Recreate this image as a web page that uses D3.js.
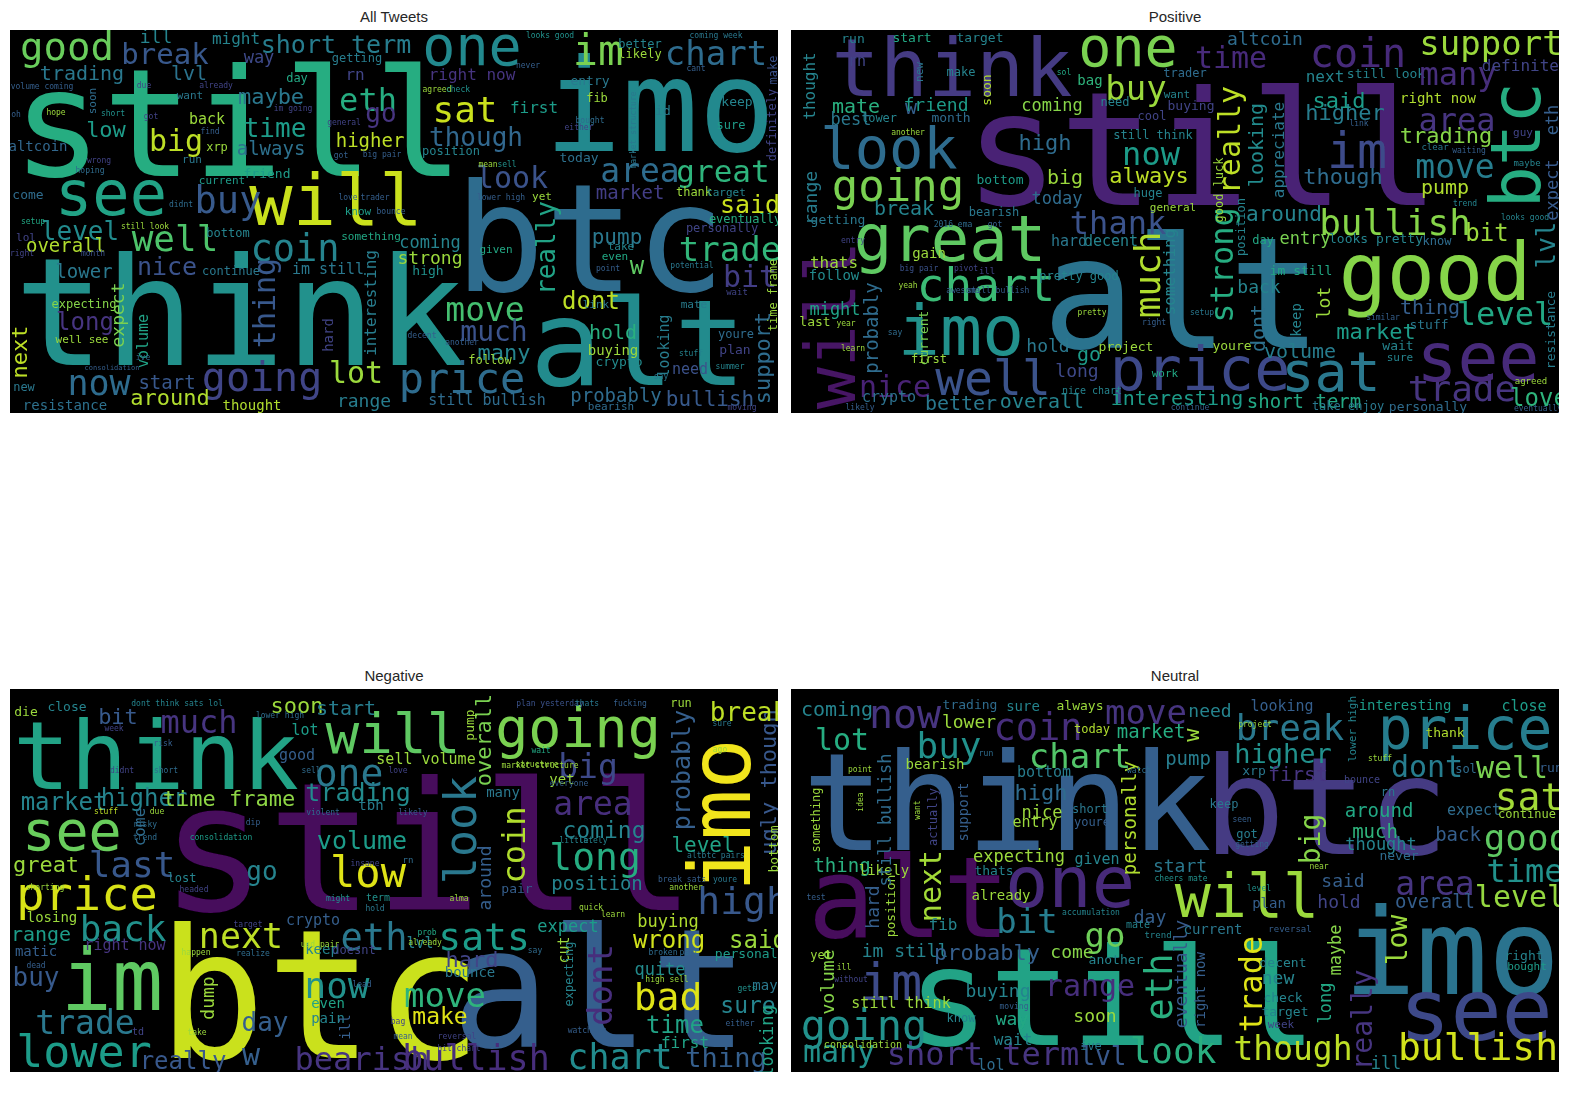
<!DOCTYPE html>
<html>
<head>
<meta charset="utf-8">
<script src="https://cdn.jsdelivr.net/npm/d3@7"></script>
<style>
  body { margin: 0; background: #fff; }
  svg { display: block; }
</style>
</head>
<body>
<svg id="chart" width="1589" height="1098"></svg>
<script>
// word rows: [text, x, y, fontSize, rotated, colour 0..1 (viridis)]
// x,y are in the cloud's own pixel frame (768 x 383). Horizontal words: x = centre, y = baseline.
// Rotated words (read bottom to top): x = baseline, y = centre.
const allWords = [
  ['still',228,146,150,0,0.62],['think',230,335,150,0,0.5],['btc',580,261,150,0,0.35],
  ['alt',628,355,120,0,0.48],['imo',650,121,128,0,0.47],['will',326,195,72,0,0.92],
  ['see',101,185,62,0,0.58],['one',462,35,55,0,0.47],['good',57,30,39,0,0.77],
  ['break',155,34,29,0,0.27],['trading',72,50,20,0,0.4],['lvl',179,50,20,0,0.38],
  ['ill',146,13,18,0,0.45],['might',226,14,16,0,0.45],['short term',326,23,25,0,0.42],
  ['im',588,35,42,0,0.8],['chart',706,35,34,0,0.35],['eth',358,81,32,0,0.62],
  ['sat',455,92,36,0,0.92],['rn',345,50,16,0,0.2],['right now',462,50,16,0,0.15],
  ['maybe',261,74,22,0,0.4],['go',371,92,26,0,0.15],['time',265,107,26,0,0.55],
  ['higher',360,117,19,0,0.9],['though',466,116,26,0,0.33],['always',261,125,19,0,0.37],
  ['buy',218,183,37,0,0.28],['level',70,210,26,0,0.48],['well',165,221,36,0,0.72],
  ['overall',56,222,19,0,0.88],['coin',285,231,37,0,0.45],['nice',157,245,25,0,0.25],
  ['lower',74,248,19,0,0.4],['thing',265,273,30,1,0.27],['move',475,291,33,0,0.7],
  ['much',484,311,28,0,0.25],['many',494,330,22,0,0.45],['interesting',366,273,16,1,0.42],
  ['hard',323,305,14,1,0.2],['im still',318,244,15,0,0.4],['coming',420,218,17,0,0.45],
  ['strong',420,234,18,0,0.85],['high',418,245,13,0,0.5],['lot',346,353,30,0,0.85],
  ['price',452,363,42,0,0.35],['going',252,361,40,0,0.2],['range',354,377,18,0,0.42],
  ['still bullish',477,375,15,0,0.35],['now',89,365,35,0,0.35],['start',157,359,19,0,0.27],
  ['around',160,375,22,0,0.88],['resistance',55,380,14,0,0.37],['long',75,300,24,0,0.15],
  ['next',17,322,22,1,0.9],['expect',114,285,18,1,0.8],['volume',138,311,15,1,0.58],
  ['expecting',74,278,12,0,0.82],['well see',72,313,11,0,0.85],['low',96,107,22,0,0.55],
  ['big',166,121,30,0,0.9],['back',197,94,15,0,0.85],['altcoin',28,121,14,0,0.33],
  ['come',18,169,13,0,0.35],['lol',16,211,11,0,0.2],['soon',86,71,11,1,0.35],
  ['xrp',207,121,12,0,0.85],['run',182,133,11,0,0.4],['current',212,154,11,0,0.55],
  ['bottom',218,207,12,0,0.45],['continue',221,245,12,0,0.4],['new',14,361,12,0,0.4],
  ['thought',242,380,14,0,0.88],['want',180,69,11,0,0.4],['way',249,33,17,0,0.22],
  ['friend',257,148,13,0,0.55],['getting',347,32,12,0,0.42],['day',287,52,12,0,0.6],
  ['look',502,158,30,0,0.25],['area',630,152,33,0,0.35],['great',713,152,31,0,0.65],
  ['market',620,169,19,0,0.18],['said',740,183,25,0,0.92],['trade',720,231,34,0,0.66],
  ['pump',607,214,21,0,0.4],['really',545,218,26,1,0.58],['w',627,244,24,0,0.75],
  ['bit',740,257,30,0,0.18],['dont',581,279,24,0,0.9],['hold',603,309,20,0,0.63],
  ['buying',603,325,14,0,0.85],['crypto',609,336,13,0,0.48],['looking',659,316,15,1,0.42],
  ['need',680,344,15,0,0.25],['probably',606,372,19,0,0.35],['bullish',700,376,21,0,0.28],
  ['support',760,328,22,1,0.35],['time frame',767,265,12,1,0.85],['definitely',766,95,12,1,0.2],
  ['make',767,40,12,1,0.25],['entry',580,55,13,0,0.4],['fib',587,72,12,0,0.85],
  ['better',630,18,12,0,0.45],['likely',630,28,12,0,0.85],['keep',727,76,13,0,0.45],
  ['sure',721,99,12,0,0.55],['today',569,132,13,0,0.37],['id',653,85,13,0,0.42],
  ['thank',684,166,12,0,0.85],['target',716,166,11,0,0.45],['eventually',735,193,12,0,0.62],
  ['personally',712,202,12,0,0.2],['yet',532,170,11,0,0.85],['link',586,278,11,0,0.4],
  ['mate',684,278,11,0,0.42],['plan',725,324,13,0,0.2],['youre',726,308,12,0,0.35],
  ['even',605,230,11,0,0.6],['take',611,220,11,0,0.45],['bearish',601,380,11,0,0.35],
  ['first',524,83,16,0,0.55],['position',441,125,12,0,0.45],['given',486,223,11,0,0.6],
  ['follow',480,334,12,0,0.85],['know',348,185,11,0,0.55],['something',361,210,11,0,0.6],
  // small fill
  ['hope',46,85,8,0,0.85],['short',103,86,8,0,0.5],['got',141,89,8,0,0.2],
  ['find',200,104,8,0,0.3],['already',206,58,8,0,0.2],['due',134,58,8,0,0.2],
  ['volume coming',32,59,8,0,0.3],['oh',6,87,8,0,0.3],['wrong',89,133,8,0,0.2],
  ['hoping',80,143,8,0,0.35],['didnt',171,177,8,0,0.35],['setup',23,194,8,0,0.6],
  ['still look',135,199,8,0,0.85],['month',83,226,8,0,0.25],['right',12,226,8,0,0.2],
  ['consolidation',102,340,7,0,0.3],['ive',133,330,8,0,0.35],['agreed',427,62,8,0,0.85],
  ['check',448,62,8,0,0.5],['im going',283,81,8,0,0.2],['general',334,95,8,0,0.2],
  ['got',331,128,8,0,0.3],['big pair',372,127,8,0,0.3],['mean',478,137,8,0,0.85],
  ['sell',497,137,8,0,0.5],['love',338,170,8,0,0.3],['trader',365,170,8,0,0.3],
  ['lower high',491,170,8,0,0.3],['bounce',381,184,8,0,0.3],['another',452,315,8,0,0.3],
  ['decent',412,308,8,0,0.3],['looks good',540,8,8,0,0.5],['coming week',706,8,8,0,0.4],
  ['never',518,38,8,0,0.3],['cant',686,41,8,0,0.3],['bought',580,93,8,0,0.35],
  ['either',569,100,8,0,0.2],['market structure',626,100,8,1,0.4],['wait',727,265,9,0,0.2],
  ['potential',682,238,8,0,0.4],['point',598,241,8,0,0.3],['stuff',681,326,8,0,0.45],
  ['summer',720,339,8,0,0.45],['say',651,349,8,0,0.4],['moving',732,380,8,0,0.2]
];

const posWords = [
  ['still',411,175,158,0,0.1],['alt',391,318,155,0,0.38],['think',161,66,80,0,0.17],
  ['will',64,295,70,1,0.05],['look',98,138,57,0,0.35],['going',107,171,44,0,0.8],
  ['great',159,231,64,0,0.75],['chart',195,271,46,0,0.68],['imo',170,325,70,0,0.5],
  ['well',202,365,48,0,0.25],['nice',104,367,30,0,0.1],['better',170,380,20,0,0.4],
  ['overall',251,378,20,0,0.45],['crypto',98,372,15,0,0.37],['probably',87,298,19,1,0.35],
  ['range',26,168,18,1,0.42],['thought',24,56,16,1,0.45],['mate',65,83,20,0,0.63],
  ['w',120,84,20,0,0.3],['friend',145,81,18,0,0.55],['best',60,95,17,0,0.4],
  ['lower',88,92,12,0,0.45],['month',160,92,13,0,0.35],['break',113,185,20,0,0.45],
  ['bottom',209,154,13,0,0.55],['bearish',203,186,12,0,0.4],['getting',47,194,13,0,0.4],
  ['thats',43,238,16,0,0.85],['follow',43,250,14,0,0.48],['might',44,285,17,0,0.58],
  ['last',24,296,13,0,0.85],['gain',138,228,14,0,0.85],['current',137,308,13,1,0.8],
  ['first',138,333,12,0,0.85],['soon',200,60,13,1,0.88],['make',170,46,12,0,0.45],
  ['new',132,42,11,1,0.4],['rn',66,36,15,0,0.2],['run',62,13,13,0,0.45],
  ['start',121,12,13,0,0.6],['target',189,12,13,0,0.45],['high',254,120,22,0,0.35],
  ['today',266,174,17,0,0.35],['coming',261,81,17,0,0.82],['big',274,154,20,0,0.85],
  ['hard',278,216,15,0,0.4],['decent',320,216,15,0,0.45],['pretty good',288,250,12,0,0.45],
  ['hold',257,322,18,0,0.4],['long',286,347,18,0,0.22],['go',298,331,20,0,0.55],
  ['one',337,36,55,0,0.8],['time',440,38,30,0,0.12],['altcoin',474,15,18,0,0.35],
  ['buy',345,70,34,0,0.85],['bag',299,55,14,0,0.65],['need',324,76,12,0,0.45],
  ['want',386,68,11,0,0.45],['trader',394,47,12,0,0.35],['buying',400,80,13,0,0.2],
  ['cool',361,90,12,0,0.2],['still think',362,109,12,0,0.45],['now',360,135,32,0,0.55],
  ['always',358,153,22,0,0.9],['huge',357,167,12,0,0.45],['thank',327,204,32,0,0.25],
  ['much',369,245,36,1,0.88],['something',384,242,16,1,0.45],['strong',442,235,32,1,0.62],
  ['really',449,110,30,1,0.9],['looking',472,115,20,1,0.48],['appreciate',493,120,16,1,0.4],
  ['good luck',432,160,12,1,0.85],['around',493,191,21,0,0.45],['day',472,214,12,0,0.6],
  ['general',382,181,11,0,0.85],['position',454,197,12,1,0.45],['back',468,263,18,0,0.45],
  ['dont',474,298,20,1,0.37],['keep',510,290,14,1,0.45],['youre',441,320,13,0,0.85],
  ['project',335,321,13,0,0.85],['price',409,360,60,0,0.22],['sat',540,361,55,0,0.4],
  ['interesting',386,375,20,0,0.55],['short term',513,378,19,0,0.6],['work',374,347,11,0,0.6],
  ['nice chart',301,364,10,0,0.45],['volume',509,328,20,0,0.42],['market',585,309,22,0,0.55],
  ['wait',607,320,13,0,0.45],['sure',609,331,11,0,0.45],['trade',671,371,36,0,0.15],
  ['love',748,376,24,0,0.65],['take enjoy',557,380,12,0,0.4],['personally',637,381,13,0,0.35],
  ['see',687,351,68,0,0.12],['good',644,270,80,0,0.82],['level',714,295,32,0,0.6],
  ['thing',639,284,20,0,0.3],['stuff',638,299,13,0,0.4],['lot',539,273,18,1,0.85],
  ['bullish',604,205,36,0,0.82],['bit',696,211,24,0,0.85],['entry',514,214,17,0,0.8],
  ['looks pretty',585,213,13,0,0.45],['know',646,215,12,0,0.35],['im still',510,245,13,0,0.6],
  ['move',664,148,33,0,0.42],['pump',654,164,20,0,0.88],['area',666,101,32,0,0.15],
  ['trading',655,113,22,0,0.82],['im',566,138,50,0,0.23],['though',552,154,22,0,0.35],
  ['higher',554,90,22,0,0.42],['said',548,78,22,0,0.55],['next',534,52,16,0,0.45],
  ['still look',595,48,13,0,0.45],['right now',647,73,14,0,0.88],['coin',567,37,40,0,0.12],
  ['support',700,25,34,0,0.85],['many',667,55,32,0,0.13],['definitely',739,41,16,0,0.2],
  ['btc',749,115,70,1,0.62],['expect',767,160,17,1,0.28],['eth',767,90,17,1,0.3],
  ['lvl',764,215,26,1,0.45],['resistance',764,300,13,1,0.42],['guy',732,106,11,0,0.2],
  // small fill
  ['another',117,105,8,0,0.85],['2016 ema',162,197,8,0,0.35],['got',204,197,8,0,0.3],
  ['entry',62,213,8,0,0.2],['big pair',128,241,8,0,0.25],['pivot',175,241,8,0,0.2],
  ['ill',196,244,9,0,0.2],['yeah',117,258,8,0,0.85],['awesome',172,263,8,0,0.3],
  ['still bullish',207,263,8,0,0.3],['year',55,296,8,0,0.85],['learn',62,321,8,0,0.85],
  ['say',104,305,8,0,0.35],['likely',69,380,8,0,0.3],['sol',273,45,8,0,0.6],
  ['pretty',301,285,8,0,0.85],['setup',411,285,8,0,0.4],['right',363,295,8,0,0.3],
  ['continue',399,380,8,0,0.3],['link',568,96,8,0,0.3],['clear',644,120,9,0,0.4],
  ['waiting',678,123,8,0,0.3],['maybe',736,136,9,0,0.45],['trend',674,176,8,0,0.45],
  ['looks good',734,190,8,0,0.45],['similar',592,290,8,0,0.3],['agreed',740,354,9,0,0.85],
  ['eventually',747,381,8,0,0.3]
];

const negWords = [
  ['still',418,221,178,0,0.02],['btc',310,369,180,0,0.92],['im',102,321,85,0,0.75],
  ['alt',590,358,165,0,0.3],['think',146,100,95,0,0.58],['will',383,64,56,0,0.75],
  ['going',568,58,55,0,0.8],['imo',740,126,85,1,0.98],['see',62,161,55,0,0.77],
  ['price',77,221,47,0,0.94],['lower',74,378,45,0,0.55],['trade',75,345,33,0,0.4],
  ['back',113,252,36,0,0.5],['last',122,188,36,0,0.27],['great',36,183,22,0,0.85],
  ['market',54,121,24,0,0.45],['higher',134,117,24,0,0.45],['time frame',219,117,22,0,0.83],
  ['come',135,138,16,1,0.35],['range',31,252,20,0,0.55],['losing',42,233,14,0,0.85],
  ['right now',115,261,15,0,0.15],['matic',26,267,14,0,0.3],['buy',26,297,26,0,0.28],
  ['really',173,380,24,0,0.27],['w',241,376,30,0,0.3],['dump',204,309,18,1,0.85],
  ['bit',108,35,22,0,0.28],['much',189,44,32,0,0.15],['close',57,22,13,0,0.45],
  ['die',16,27,13,0,0.85],['go',252,191,26,0,0.45],['next',231,259,35,0,0.9],
  ['eth',364,261,37,0,0.4],['sats',474,261,38,0,0.55],['day',255,342,26,0,0.3],
  ['now',327,309,36,0,0.5],['even',318,319,14,0,0.58],['pain',318,334,14,0,0.45],
  ['ill',340,338,14,1,0.3],['move',435,318,34,0,0.65],['make',430,335,23,0,0.95],
  ['hard',462,278,22,0,0.2],['bounce',460,288,14,0,0.4],['lvl',410,259,15,0,0.45],
  ['keep',312,265,14,0,0.45],['doesnt',344,265,12,0,0.2],['crypto',303,236,15,0,0.3],
  ['volume',352,160,25,0,0.55],['low',358,198,42,0,0.95],['tbh',361,121,14,0,0.42],
  ['trading',348,112,25,0,0.48],['one',339,97,38,0,0.4],['good',287,71,15,0,0.3],
  ['soon',287,24,22,0,0.85],['start',336,26,20,0,0.42],['lot',295,46,15,0,0.55],
  ['sell volume',416,75,15,0,0.85],['overall',481,51,22,1,0.8],['pump',464,36,13,1,0.85],
  ['look',466,141,45,1,0.4],['coin',515,156,32,1,0.88],['around',481,189,18,1,0.3],
  ['many',493,108,14,0,0.4],['pair',507,204,13,0,0.3],['bearish',352,381,32,0,0.15],
  ['bullish',466,381,35,0,0.13],['chart',610,380,35,0,0.48],['thing',716,378,27,0,0.3],
  ['first',675,359,16,0,0.58],['time',665,344,24,0,0.58],['sure',738,324,23,0,0.45],
  ['looking',763,352,17,1,0.58],['may',755,301,14,0,0.4],['bad',658,321,38,0,0.95],
  ['quite',650,286,17,0,0.48],['wrong',659,259,24,0,0.93],['said',748,259,24,0,0.85],
  ['personally',744,269,13,0,0.55],['high',733,225,38,0,0.27],['buying',658,238,17,0,0.88],
  ['expect',558,243,17,0,0.55],['dont',602,296,34,1,0.13],['cut',559,261,15,1,0.85],
  ['expecting',563,285,12,1,0.45],['long',585,181,38,0,0.62],['coming',594,149,23,0,0.45],
  ['area',583,126,33,0,0.13],['position',587,201,19,0,0.45],['level',693,163,21,0,0.58],
  ['probably',680,81,25,1,0.3],['ugly though',766,93,22,1,0.27],['bottom',768,160,13,1,0.85],
  ['big',578,89,33,0,0.22],['yet',552,95,14,0,0.85],['break',739,32,26,0,0.9],
  ['run',671,18,12,0,0.85],
  // small fill
  ['dont think sats lol',167,17,8,0,0.45],['week',104,42,8,0,0.2],['risk',153,57,8,0,0.3],
  ['didnt',112,84,8,0,0.2],['short',156,84,8,0,0.35],['stuff',96,125,8,0,0.9],
  ['due',147,125,8,0,0.85],['risky',135,138,8,0,0.35],['trend',135,151,8,0,0.35],
  ['consolidation',211,151,8,0,0.55],['lost',172,193,12,0,0.45],['headed',184,203,8,0,0.2],
  ['shorting',35,201,8,0,0.85],['happen',186,266,8,0,0.85],['dead',26,279,8,0,0.3],
  ['td',128,346,10,0,0.2],['take',187,346,8,0,0.85],['target',238,238,8,0,0.2],
  ['dip',243,136,8,0,0.3],['realize',243,267,8,0,0.35],['lower high',270,29,8,0,0.35],
  ['sell',301,84,8,0,0.35],['love',388,84,8,0,0.2],['market structure',530,79,8,0,0.85],
  ['violent',313,126,8,0,0.35],['likely',403,126,8,0,0.3],['insane',355,177,8,0,0.2],
  ['rn',398,174,9,0,0.35],['might',328,212,8,0,0.5],['term',368,212,10,0,0.5],
  ['hold',365,222,8,0,0.4],['alma',449,212,8,0,0.85],['prob',417,246,8,0,0.6],
  ['already',415,256,8,0,0.85],['usd pair',310,258,8,0,0.85],['lead',352,298,8,0,0.3],
  ['bag',388,335,8,0,0.2],['mean',393,350,8,0,0.3],['reversal',447,350,8,0,0.2],
  ['bit chart',449,362,8,0,0.2],['plan yesterday',540,17,8,0,0.25],['thats',577,17,8,0,0.4],
  ['fucking',620,17,8,0,0.3],['sure',712,37,8,0,0.4],['wait',531,64,8,0,0.6],
  ['structure',527,78,8,0,0.85],['ago',710,63,8,0,0.85],['everyone',559,97,8,0,0.3],
  ['little',564,154,8,0,0.45],['lately',583,154,8,0,0.45],['altbtc pairs',706,169,8,0,0.4],
  ['break sats',672,193,8,0,0.3],['youre',715,193,8,0,0.4],['another',676,201,8,0,0.85],
  ['quick',581,221,8,0,0.85],['learn',603,228,8,0,0.85],['say',525,264,8,0,0.35],
  ['broken',653,266,8,0,0.35],['part',679,266,8,0,0.35],['high sell',657,293,8,0,0.85],
  ['gets',737,302,8,0,0.5],['either',730,337,8,0,0.3],['watching',577,344,8,0,0.3]
];

const neuWords = [
  ['think',216,161,136,0,0.3],['btc',535,165,136,0,0.17],['still',321,356,136,0,0.58],
  ['alt',118,248,112,0,0.02],['imo',661,305,120,0,0.38],['see',685,351,85,0,0.22],
  ['one',279,218,72,0,0.12],['will',456,228,60,0,0.85],['price',674,60,58,0,0.42],
  ['break',499,51,36,0,0.4],['higher',492,74,27,0,0.5],['first',507,92,20,0,0.15],
  ['dont',636,88,30,0,0.42],['sol',675,84,12,0,0.35],['well',721,89,30,0,0.8],
  ['sat',738,121,38,0,0.86],['good',736,161,36,0,0.75],['time',734,193,32,0,0.5],
  ['level',729,218,30,0,0.84],['area',644,206,33,0,0.15],['overall',644,219,19,0,0.3],
  ['said',552,198,18,0,0.3],['hold',548,219,18,0,0.2],['around',588,128,19,0,0.6],
  ['much',584,149,19,0,0.65],['thought',590,161,17,0,0.45],['never',608,171,13,0,0.35],
  ['back',667,152,19,0,0.3],['expect',683,126,15,0,0.35],['continue',736,129,12,0,0.85],
  ['thank',654,48,13,0,0.88],['close',733,22,15,0,0.55],['interesting',614,21,14,0,0.55],
  ['lower high',565,40,11,1,0.45],['low',616,251,28,1,0.85],['maybe',550,261,17,1,0.82],
  ['long',540,314,17,1,0.6],['really',581,331,28,1,0.15],['ill',595,380,17,0,0.45],
  ['bullish',687,371,38,0,0.93],['though',502,371,33,0,0.9],['look',382,374,36,0,0.63],
  ['lvl',312,376,26,0,0.27],['short term',192,376,32,0,0.15],['many',48,373,30,0,0.5],
  ['lol',200,381,15,0,0.35],['going',73,351,42,0,0.5],['im',100,311,52,0,0.23],
  ['im still',114,268,18,0,0.45],['probably',196,271,22,0,0.3],['still think',110,319,15,0,0.85],
  ['buying',207,308,18,0,0.45],['way',221,336,18,0,0.6],['wait',222,356,16,0,0.45],
  ['know',170,333,12,0,0.45],['consolidation',72,359,10,0,0.85],['volume',43,293,18,1,0.82],
  ['yet',30,270,12,0,0.85],['next',150,197,30,1,0.86],['hard',88,218,18,1,0.3],
  ['position',104,217,13,1,0.85],['fib',152,241,16,0,0.45],['bit',236,244,34,0,0.42],
  ['thing',51,183,19,0,0.63],['likely',93,186,14,0,0.85],['thats',203,186,13,0,0.45],
  ['already',210,211,14,0,0.85],['expecting',228,173,17,0,0.85],['nice',251,129,17,0,0.85],
  ['entry',244,138,15,0,0.85],['high',250,111,22,0,0.35],['bottom',253,88,15,0,0.42],
  ['coin',247,51,37,0,0.13],['chart',289,79,34,0,0.73],['now',114,39,40,0,0.15],
  ['buy',158,69,36,0,0.5],['lot',51,61,30,0,0.62],['coming',46,27,20,0,0.45],
  ['lower',178,39,18,0,0.85],['trading',179,20,13,0,0.35],['sure',232,22,14,0,0.45],
  ['bearish',144,80,14,0,0.85],['still bullish',100,131,17,1,0.35],['support',177,123,14,1,0.3],
  ['actually',146,128,12,1,0.2],['something',29,131,12,1,0.85],['move',355,35,34,0,0.15],
  ['need',419,28,18,0,0.45],['always',289,21,13,0,0.85],['today',301,44,12,0,0.88],
  ['market',360,49,19,0,0.62],['w',408,46,22,1,0.85],['pump',397,76,19,0,0.42],
  ['personally',345,129,19,1,0.88],['given',306,175,15,0,0.45],['start',389,183,18,0,0.4],
  ['day',359,234,18,0,0.3],['go',314,258,34,0,0.78],['come',281,269,18,0,0.82],
  ['another',325,275,13,0,0.45],['range',299,307,30,0,0.13],['soon',304,333,18,0,0.85],
  ['ive',300,361,12,0,0.4],['eth',381,298,37,1,0.63],['eventually',396,285,18,1,0.28],
  ['right now',414,301,14,1,0.3],['trade',471,295,32,1,0.95],['current',422,245,14,0,0.4],
  ['plan',478,219,14,0,0.3],['decent',492,278,13,0,0.45],['new',487,295,18,0,0.45],
  ['check',492,313,13,0,0.45],['target',494,327,13,0,0.45],['week',490,339,11,0,0.2],
  ['keep',433,119,12,0,0.4],['xrp',463,86,13,0,0.4],['got',456,149,12,0,0.42],
  ['short',299,124,12,0,0.4],['youre',301,137,12,0,0.3],['looking',491,22,15,0,0.3],
  ['big',529,150,28,1,0.82],['rn',597,107,12,0,0.4],['bounce',571,94,10,0,0.2],
  ['right',733,271,13,0,0.45],['bought',736,281,11,0,0.55],['run',760,83,13,0,0.3],
  // small fill
  ['run',195,67,8,0,0.35],['point',69,83,8,0,0.85],['idea',72,113,8,1,0.85],
  ['want',129,121,8,1,0.85],['test',25,211,8,0,0.3],['ill',53,281,8,0,0.85],
  ['without',60,293,8,0,0.2],['moving',223,320,8,0,0.3],['project',464,38,8,0,0.85],
  ['watch',348,84,8,0,0.35],['seen',451,133,8,0,0.3],['getting',461,158,8,0,0.3],
  ['cheers mate',390,192,8,0,0.5],['level',468,202,8,0,0.5],['accumulation',300,226,8,0,0.45],
  ['mate',347,239,10,0,0.45],['trend',367,249,9,0,0.45],['reversal',499,243,9,0,0.3],
  ['stuff',589,72,8,0,0.85],['near',528,180,8,0,0.85]
];

const panelTitles = ['All Tweets', 'Positive', 'Negative', 'Neutral'];
const panelWords = [allWords, posWords, negWords, neuWords];

const W = 1589, H = 1098;
const panelW = 768, panelH = 383;
const cols = [10, 791];
const rows = [30, 689];

const svg = d3.select('#chart');
svg.append('rect').attr('width', W).attr('height', H).attr('fill', '#fff');

// soften the glyphs a bit, the source cloud is an upscaled 400x200 bitmap
svg.append('defs').append('filter').attr('id', 'soft')
  .append('feGaussianBlur').attr('stdDeviation', 0.55);

const x = d3.scaleLinear().domain([0, 768]).range([0, panelW]);
const y = d3.scaleLinear().domain([0, 383]).range([0, panelH]);
const fsize = d3.scaleLinear().domain([0, 768]).range([0, panelW]);
const colour = d3.scaleSequential(d3.interpolateViridis).domain([0, 1]);

panelTitles.forEach((title, i) => {
  let ox = cols[i % 2], oy = rows[Math.floor(i / 2)];
  let g = svg.append('g').attr('transform', `translate(${ox},${oy})`);

  g.append('text')
    .attr('x', panelW / 2).attr('y', -8)
    .attr('text-anchor', 'middle')
    .attr('font-family', '"Liberation Sans", Arial, sans-serif')
    .attr('font-size', 15)
    .attr('fill', '#262626')
    .text(title);

  g.append('clipPath').attr('id', 'clip' + i)
    .append('rect').attr('width', panelW).attr('height', panelH);

  g.append('rect').attr('width', panelW).attr('height', panelH).attr('fill', '#000');

  let words = g.append('g')
    .attr('clip-path', `url(#clip${i})`)
    .append('g').attr('filter', 'url(#soft)');

  words.selectAll('text')
    .data(panelWords[i])
    .enter()
    .append('text')
    .attr('transform', d => d[4]
      ? `translate(${x(d[1])},${y(d[2])}) rotate(-90)`
      : `translate(${x(d[1])},${y(d[2])})`)
    .attr('text-anchor', 'middle')
    .attr('font-family', '"DejaVu Sans Mono", monospace')
    .attr('font-size', d => fsize(d[3]))
    .attr('fill', d => colour(d[5]))
    .text(d => d[0]);
});
</script>
</body>
</html>
